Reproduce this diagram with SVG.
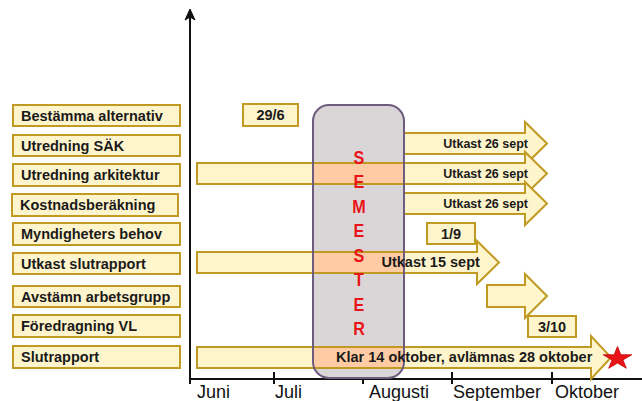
<svg xmlns="http://www.w3.org/2000/svg" width="642" height="401" viewBox="0 0 642 401">
<style>
.box{fill:#FFF5CC;stroke:#C09A22;stroke-width:2}
.lbl{font-family:"Liberation Sans",Arial,sans-serif;font-weight:bold;font-size:14.5px;fill:#1a1a1a}
.sm{font-family:"Liberation Sans",Arial,sans-serif;font-weight:bold;font-size:12.5px;fill:#1a1a1a}
.mon{font-family:"Liberation Sans",Arial,sans-serif;font-size:18px;fill:#111}
.sem{font-family:"Liberation Sans",Arial,sans-serif;font-weight:bold;font-size:19px;fill:#E8141A}
.peach{fill:#FFCBA4}
.axis{stroke:#111;stroke-width:2;fill:none}
</style>
<rect width="642" height="401" fill="#fff"/>
<g id="labels">
<g id="l1"><rect class="box" x="13" y="105" width="167" height="21"/><text class="lbl" x="21" y="120.5">Bestämma alternativ</text></g>
<g id="l2"><rect class="box" x="13" y="135" width="167" height="21"/><text class="lbl" x="21" y="150.5">Utredning SÄK</text></g>
<g id="l3"><rect class="box" x="13" y="164" width="167" height="22"/><text class="lbl" x="21" y="180">Utredning arkitektur</text></g>
<g id="l4"><rect class="box" x="12" y="194" width="166" height="22"/><text class="lbl" x="20" y="210">Kostnadsberäkning</text></g>
<g id="l5"><rect class="box" x="13" y="223" width="167" height="22"/><text class="lbl" x="21" y="239">Myndigheters behov</text></g>
<g id="l6"><rect class="box" x="13" y="253" width="167" height="21"/><text class="lbl" x="21" y="268.5">Utkast slutrapport</text></g>
<g id="l7"><rect class="box" x="13" y="286" width="167" height="21"/><text class="lbl" x="21" y="301.5">Avstämn arbetsgrupp</text></g>
<g id="l8"><rect class="box" x="13" y="315" width="167" height="22"/><text class="lbl" x="21" y="331">Föredragning VL</text></g>
<g id="l9"><rect class="box" x="13" y="346" width="167" height="22"/><text class="lbl" x="21" y="362">Slutrapport</text></g>
</g>
<g id="axes">
<path class="axis" d="M190,14 V384 M190,379 H642"/>
<path d="M190,9 L185,20 L190,17 L195,20 Z" fill="#111" stroke="#111" stroke-width="1"/>
<path class="axis" d="M274,372 V384 M363,372 V384 M452,372 V384 M552,372 V384"/>
<text class="mon" x="197" y="398">Juni</text>
<text class="mon" x="275" y="398">Juli</text>
<text class="mon" x="369" y="398">Augusti</text>
<text class="mon" x="453" y="398">September</text>
<text class="mon" x="555" y="398">Oktober</text>
</g>
<g id="semester-bg"><rect x="313" y="105" width="91" height="273" rx="16" fill="#DAD6D7"/></g>
<g id="bars">
<path class="box" d="M404,133 H525 V122 L547,143.5 L525,165 V154 H404 Z"/>
<path class="box" d="M197,163 H525 V152 L547,173.5 L525,195 V184 H197 Z"/>
<path class="box" d="M404,193 H525 V182 L547,203.5 L525,225 V214 H404 Z"/>
<path class="box" d="M197,252 H477 V241 L499,262.5 L477,284 V273 H197 Z"/>
<path class="box" d="M487,285 H525 V274 L547,296 L525,318 V307 H487 Z"/>
<path class="box" d="M197,347 H591 V336 L611,357.5 L591,379 V368 H197 Z"/>
<rect class="peach" x="313" y="164" width="91" height="19"/>
<rect class="peach" x="313" y="253" width="91" height="19"/>
<rect class="peach" x="313" y="348" width="91" height="19"/>
</g>
<g id="semester"><rect x="313" y="105" width="91" height="273" rx="16" fill="none" stroke="#6E5C7E" stroke-width="2"/>
<g transform="translate(359,0) scale(0.85,1)">
<text class="sem" x="0" y="164" text-anchor="middle">S</text>
<text class="sem" x="0" y="188.5" text-anchor="middle">E</text>
<text class="sem" x="0" y="213" text-anchor="middle">M</text>
<text class="sem" x="0" y="237.5" text-anchor="middle">E</text>
<text class="sem" x="0" y="262" text-anchor="middle">S</text>
<text class="sem" x="0" y="286.5" text-anchor="middle">T</text>
<text class="sem" x="0" y="311" text-anchor="middle">E</text>
<text class="sem" x="0" y="335.5" text-anchor="middle">R</text>
</g>
</g>
<g id="bar-texts">
<text class="sm" x="528" y="148" text-anchor="end">Utkast 26 sept</text>
<text class="sm" x="528" y="178" text-anchor="end">Utkast 26 sept</text>
<text class="sm" x="528" y="208" text-anchor="end">Utkast 26 sept</text>
<text class="lbl" x="381.5" y="267">Utkast 15 sept</text>
<text class="lbl" x="336" y="362">Klar 14 oktober, avlämnas 28 oktober</text>
</g>
<g id="d296"><rect class="box" x="243" y="104" width="55" height="22"/><text class="lbl" x="270.5" y="120" text-anchor="middle">29/6</text></g>
<g id="d19"><rect class="box" x="427" y="223" width="48" height="21"/><text class="lbl" x="451" y="238.5" text-anchor="middle">1/9</text></g>
<g id="d310"><rect class="box" x="528" y="316" width="48" height="21"/><text class="lbl" x="552" y="331.5" text-anchor="middle">3/10</text></g>
<g id="star"><path d="M617.5,346.5 L620.85,354.78 L631.77,354.79 L622.92,359.92 L626.32,368.21 L617.5,363.1 L608.68,368.21 L612.08,359.92 L603.23,354.79 L614.15,354.78 Z" fill="#E8141A" stroke="#C00000" stroke-width="0.8"/></g>
</svg>
